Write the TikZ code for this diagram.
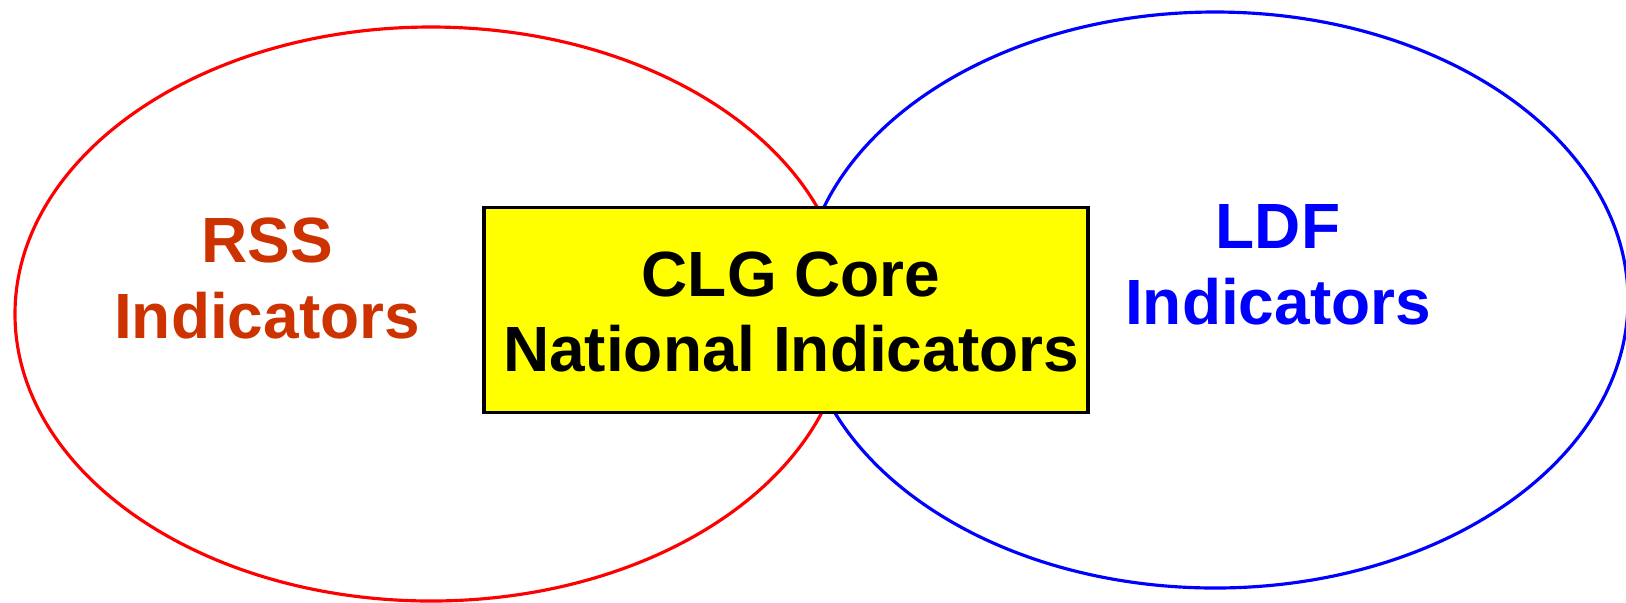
\documentclass[tikz,border=0pt]{standalone}
\usepackage{fontspec}
\setmainfont{Liberation Sans}
\usepackage{tikz}
\usetikzlibrary{shapes, calc, positioning}
\definecolor{rssred}{RGB}{204,51,0}
\definecolor{coreyellow}{RGB}{255,255,0}

\begin{document}
\begin{tikzpicture}[semithick,font=\bfseries\fontsize{18.2}{21.6}\selectfont]
	\tikzset{ring/.style={ellipse, line width=0.9pt, inner sep=0pt},
		label text/.style={align=center, inner sep=0pt},
		core box/.style={draw=black, line width=0.9pt, fill=coreyellow, inner sep=0pt, minimum width=6.04cm, minimum height=2.05cm}}
	\useasboundingbox (0,0) rectangle (16.26,6.02);
	\node[ring, draw=red, minimum width=8.32cm, minimum height=5.74cm] (RSSring) at (4.31,2.88) {};
	\node[ring, draw=blue, minimum width=8.26cm, minimum height=5.76cm] (LDFring) at (12.15,3.02) {};
	\node[core box] (CLG) at (7.86,2.92) {};
	\node[label text] (CLGtext) at (7.91,2.90) {CLG Core\\National Indicators};
	\node[label text, text=rssred] (RSS) at (2.67,3.235) {RSS\\Indicators};
	\node[label text, text=blue] (LDF) at (12.78,3.37) {LDF\\Indicators};
\end{tikzpicture}
\end{document}
